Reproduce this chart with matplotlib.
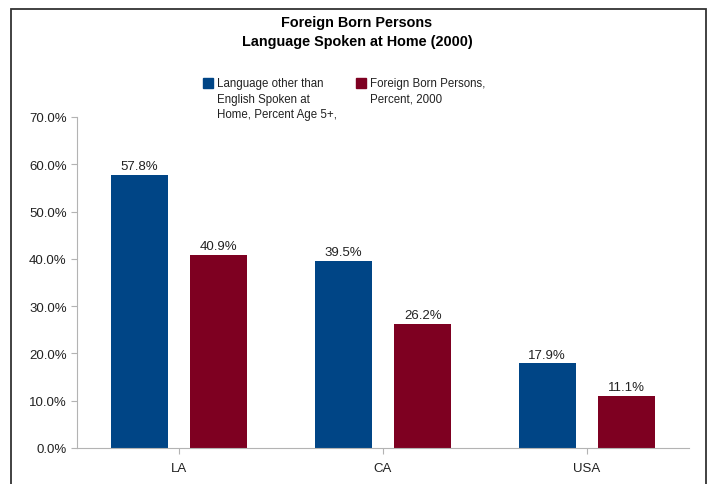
import numpy as np
import matplotlib.pyplot as plt
from matplotlib.patches import Rectangle

plt.rcParams['font.family'] = ['Liberation Sans', 'DejaVu Sans']

places = ['LA', 'CA', 'USA']
other_language = [57.8, 39.5, 17.9]
foreign_born = [40.9, 26.2, 11.1]
series_names = ['Language other than\nEnglish Spoken at\nHome, Percent Age 5+,',
                'Foreign Born Persons,\nPercent, 2000']
colors = ['#004586', '#7e0021']
yticks = np.arange(0, 71, 10)

W, H = 711, 485
fig = plt.figure(figsize=(W / 100, H / 100), dpi=100)
ax = fig.add_axes([77 / W, 1 - 449 / H, (689 - 77) / W, (449 - 118) / H])

x = np.arange(len(places))
w = 0.28
for vals, off, c in [(other_language, -0.195, colors[0]), (foreign_born, 0.195, colors[1])]:
    bars = ax.bar(x + off, vals, w, color=c, zorder=2)
    for b, v in zip(bars, vals):
        ax.text(b.get_x() + b.get_width() / 2, v + 0.6, f'{v:.1f}%',
                ha='center', va='bottom', fontsize=9.5, color='#222222')

ax.set_xlim(-0.5, len(places) - 0.5)
ax.set_ylim(0, 70)
ax.set_xticks(x)
ax.set_xticklabels(places)
ax.set_yticks(yticks)
ax.set_yticklabels([f'{t:.1f}%' for t in yticks])
ax.tick_params(colors='#b3b3b3', labelcolor='#222222', labelsize=9.5, length=4)
ax.tick_params(axis='x', pad=6)
for s in ['top', 'right']:
    ax.spines[s].set_visible(False)
for s in ['left', 'bottom']:
    ax.spines[s].set_color('#b3b3b3')

# title
fig.text(357 / W, 1 - 23 / H, 'Foreign Born Persons', ha='center', va='center',
         fontsize=10.4, fontweight='bold')
fig.text(357 / W, 1 - 42 / H, 'Language Spoken at Home (2000)', ha='center', va='center',
         fontsize=10.4, fontweight='bold')

# legend
for lx, name, c in zip([203, 356], series_names, colors):
    fig.patches.append(Rectangle((lx / W, 1 - 89 / H), 10 / W, 10 / H,
                                 transform=fig.transFigure, color=c))
    fig.text((lx + 14) / W, 1 - 78 / H, name, ha='left', va='top',
             fontsize=8.3, linespacing=1.4, color='#222222')

# outer frame
fig.patches.append(Rectangle((11 / W, -0.05), (706 - 11) / W, 1.05 - 10 / H,
                             transform=fig.transFigure, fill=False,
                             edgecolor='#333333', linewidth=1.3))

fig.savefig('out.png', dpi=100)
